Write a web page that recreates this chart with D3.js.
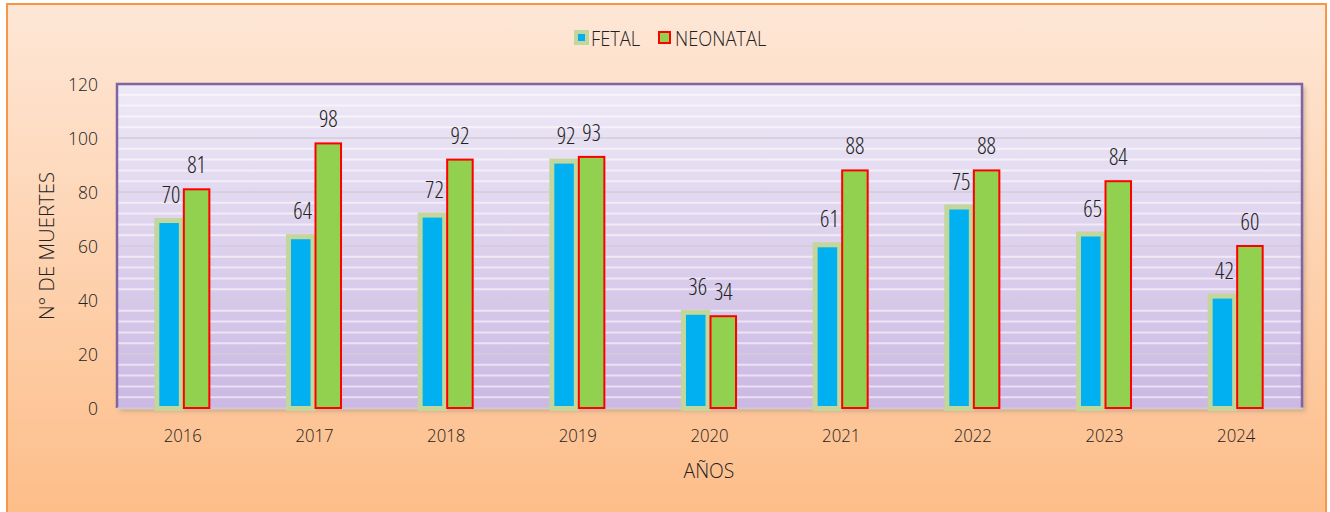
<!DOCTYPE html>
<html><head><meta charset="utf-8">
<script src="https://cdn.jsdelivr.net/npm/d3@7/dist/d3.min.js"></script>
<style>
html,body{margin:0;padding:0;background:#fff;}
text{font-family:"Open Sans",sans-serif;font-weight:300;fill:#222;}
.cond{font-stretch:75%;}
</style></head>
<body><svg id="c" width="1330" height="512"></svg>
<script>
const years = ["2016","2017","2018","2019","2020","2021","2022","2023","2024"];
const series = ["FETAL","NEONATAL"];
const fetal = [70,64,72,92,36,61,75,65,42];
const neonatal = [81,98,92,93,34,88,88,84,60];
const yTicks = [0,20,40,60,80,100,120];

const svg = d3.select("#c");
const P = {l:117, r:1302, t:84, b:408};
const FONT = '"Open Sans",sans-serif';

const defs = svg.append("defs");
const g1 = defs.append("linearGradient").attr("id","bg").attr("x1",0).attr("y1",0).attr("x2",0).attr("y2",1);
g1.append("stop").attr("offset","0%").attr("stop-color","#fee7d7");
g1.append("stop").attr("offset","100%").attr("stop-color","#fdbc86");
const g2 = defs.append("linearGradient").attr("id","pa").attr("x1",0).attr("y1",0).attr("x2",0).attr("y2",1);
g2.append("stop").attr("offset","0%").attr("stop-color","#eee9f6");
g2.append("stop").attr("offset","100%").attr("stop-color","#cbb8e3");
const f = defs.append("filter").attr("id","sh").attr("x","-5%").attr("y","-5%").attr("width","110%").attr("height","120%");
f.append("feGaussianBlur").attr("stdDeviation",2.5);

svg.append("rect").attr("x",7).attr("y",4).attr("width",1319).attr("height",530)
  .attr("fill","url(#bg)").attr("stroke","#f79646").attr("stroke-width",2);

const y = d3.scaleLinear().domain([0,120]).range([P.b,P.t]);
const x = d3.scaleBand().domain(years).range([P.l,P.r]).padding(0);
const groupW = x.bandwidth()*0.418;
const xs = d3.scaleBand().domain(series).range([0,groupW]).padding(0);

svg.append("rect").attr("x",P.l+3).attr("y",P.t+3).attr("width",P.r-P.l).attr("height",P.b-P.t)
  .attr("fill","#9a8070").attr("opacity",0.5).attr("filter","url(#sh)");
svg.append("rect").attr("x",P.l).attr("y",P.t).attr("width",P.r-P.l).attr("height",P.b-P.t).attr("fill","url(#pa)");

const minor = d3.range(4,120,4).filter(v=>v%20!==0);
svg.append("g").selectAll("line").data(minor).join("line")
  .attr("x1",P.l).attr("x2",P.r).attr("y1",d=>y(d)).attr("y2",d=>y(d))
  .attr("stroke","#ffffff").attr("stroke-opacity",0.55).attr("stroke-width",2);
svg.append("g").selectAll("line").data(yTicks.filter(v=>v>0&&v<120)).join("line")
  .attr("x1",P.l).attr("x2",P.r).attr("y1",d=>y(d)).attr("y2",d=>y(d))
  .attr("stroke","#d2ccd8").attr("stroke-width",1.5);

svg.append("path").attr("d",`M${P.l},${P.b}V${P.t}H${P.r}V${P.b}`).attr("fill","none")
  .attr("stroke","#8064a2").attr("stroke-width",2.5);
svg.append("line").attr("x1",P.l).attr("x2",P.r+1).attr("y1",P.b+0.5).attr("y2",P.b+0.5)
  .attr("stroke","#cfcbd0").attr("stroke-width",2);

const data = years.map((yr,i)=>({yr, fetal:fetal[i], neonatal:neonatal[i]}));
const gb = svg.append("g");
gb.selectAll("rect.f").data(data).join("rect").attr("class","f")
  .attr("x",d=>x(d.yr)+x.bandwidth()/2-groupW/2+xs("FETAL")+1.5)
  .attr("y",d=>y(d.fetal)+1.5)
  .attr("width",xs.bandwidth()-3).attr("height",d=>y(0)-y(d.fetal)-1)
  .attr("fill","#00b0f0").attr("stroke","#c3d69b").attr("stroke-width",5);
gb.selectAll("rect.n").data(data).join("rect").attr("class","n")
  .attr("x",d=>x(d.yr)+x.bandwidth()/2-groupW/2+xs("NEONATAL")+1)
  .attr("y",d=>y(d.neonatal))
  .attr("width",xs.bandwidth()-2).attr("height",d=>y(0)-y(d.neonatal))
  .attr("fill","#92d050").attr("stroke","#ff0000").attr("stroke-width",2);

const gl = svg.append("g").attr("font-size",23).attr("text-anchor","middle");
gl.selectAll("text.f").data(data).join("text").attr("class","cond")
  .attr("x",d=>x(d.yr)+x.bandwidth()/2-groupW/2+xs("FETAL")+xs.bandwidth()/2+2)
  .attr("y",d=>y(d.fetal)-16).text(d=>d.fetal);
gl.selectAll("text.n").data(data).join("text").attr("class","cond")
  .attr("x",d=>x(d.yr)+x.bandwidth()/2-groupW/2+xs("NEONATAL")+xs.bandwidth()/2)
  .attr("y",d=>y(d.neonatal)-16).text(d=>d.neonatal);

const ya = svg.append("g").attr("transform",`translate(${P.l-19},0)`)
  .call(d3.axisLeft(y).tickValues(yTicks).tickSize(0).tickPadding(0));
ya.select(".domain").remove();
ya.selectAll("text").attr("font-size",19).attr("fill","#222").attr("dy","0.36em")
  .attr("transform","scale(0.92,1)")
  .style("font-family",FONT).style("font-weight",300);
const xa = svg.append("g").attr("transform",`translate(0,${P.b+20})`)
  .call(d3.axisBottom(x).tickSize(0).tickPadding(0));
xa.select(".domain").remove();
xa.selectAll("text").attr("font-size",19).attr("fill","#222")
  .attr("transform","scale(0.88,1)")
  .style("font-family",FONT).style("font-weight",300);

svg.append("text").attr("transform","translate(709,478) scale(0.92,1)").attr("text-anchor","middle").attr("font-size",21).text("AÑOS");
svg.append("text").attr("transform","translate(54,246) rotate(-90) scale(0.97,1)").attr("text-anchor","middle")
  .attr("font-size",21).text("N° DE MUERTES");

const lg = svg.append("g");
lg.append("rect").attr("x",576).attr("y",32).attr("width",11).attr("height",11)
  .attr("fill","#00b0f0").attr("stroke","#c3d69b").attr("stroke-width",4);
lg.append("text").attr("transform","translate(591,46) scale(0.87,1)").attr("font-size",21).text(series[0]);
lg.append("rect").attr("x",659).attr("y",32).attr("width",11).attr("height",11)
  .attr("fill","#92d050").attr("stroke","#ff0000").attr("stroke-width",2);
lg.append("text").attr("transform","translate(675,46) scale(0.87,1)").attr("font-size",21).text(series[1]);
</script></body></html>
